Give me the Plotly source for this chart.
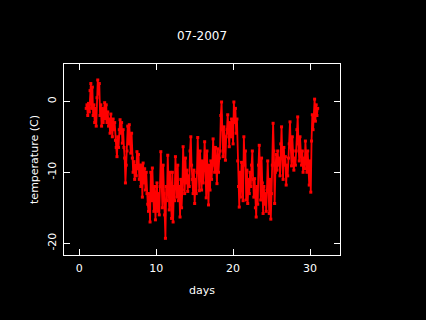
import plotly.graph_objects as go

title_text = "07-2007"
x_label = "days"
y_label = "temperature (C)"
x_ticks = [0, 10, 20, 30]
y_ticks = [0, -10, -20]

# sample times (days), 0.1-day steps from 0.9 to 31.0
days = [round(0.9 + 0.1 * i, 1) for i in range(302)]

# temperatures (C), one per sample time
temps = [
    -1.0,
    -0.5, -2.0, -0.3, -1.5, 1.5, 2.5, -1.0, 2.0, -2.0, -0.5,
    -3.0, -1.0, -3.5, 0.5, 3.0, 1.0, 2.5, -2.0, -0.5, -3.5,
    -1.0, -3.0, -2.0, -0.2, -2.5, -0.5, -3.0, -1.5, -3.5, -2.5,
    -4.5, -1.8, -3.5, -5.0, -2.5, -4.0, -3.0, -5.5, -6.5, -7.8,
    -5.0, -6.5, -4.0, -2.6, -4.5, -3.0, -5.9, -4.0, -6.5, -8.0,
    -11.5, -9.0, -7.0, -3.5, -6.0, -3.3, -5.5, -7.3, -4.5, -8.0,
    -10.0, -8.5, -11.0, -9.0, -10.5, -7.1, -9.5, -7.5, -11.0, -9.0,
    -12.0, -9.0, -13.5, -8.7, -11.5, -9.5, -12.5, -10.0, -13.0, -14.5,
    -15.5, -13.0, -17.0, -10.0, -14.0, -9.4, -13.0, -15.5, -12.0, -16.7,
    -14.0, -11.5, -15.5, -13.0, -16.0, -12.0, -7.1, -11.0, -15.0, -9.0,
    -13.0, -16.0, -19.3, -12.0, -14.0, -7.6, -12.0, -15.3, -10.0, -13.5,
    -16.5, -10.0, -17.0, -12.0, -14.0, -7.8, -11.0, -13.5, -9.0, -14.0,
    -12.0, -16.3, -11.0, -15.0, -12.5, -6.4, -10.0, -13.0, -8.0, -11.5,
    -9.7, -12.7, -10.5, -12.0, -7.0, -5.0, -9.0, -11.0, -13.0, -9.7,
    -14.4, -11.0, -13.0, -10.0, -5.1, -9.0, -12.6, -7.0, -10.5, -12.5,
    -8.4, -11.5, -9.5, -5.7, -9.0, -13.6, -7.0, -11.0, -14.6, -9.0,
    -12.5, -8.4, -11.0, -9.0, -5.3, -8.0, -10.0, -6.5, -9.0, -11.6,
    -6.7, -10.0, -8.0, -7.0, -2.0, -0.1, -4.0, -7.8, -3.6, -6.0,
    -8.3, -5.0, -4.0, -1.9, -4.5, -6.4, -3.0, -5.0, -2.5, -4.5,
    -6.0, -0.1, -3.0, -1.0, -4.5, -2.5, -8.4, -12.0, -14.9, -10.0,
    -13.5, -8.6, -12.0, -14.0, -5.0, -9.0, -7.0, -13.9, -9.7, -14.4,
    -11.0, -13.0, -10.0, -12.0, -9.0, -7.0, -11.0, -13.5, -10.9, -15.0,
    -16.3, -12.0, -14.5, -9.0, -6.2, -10.0, -13.9, -8.0, -11.5, -15.8,
    -12.0, -14.5, -13.0, -15.5, -12.5, -8.4, -12.0, -15.8, -11.0, -16.6,
    -13.0, -9.0, -3.1, -7.0, -14.4, -10.0, -7.5, -9.7, -7.0, -9.0,
    -8.0, -10.5, -6.0, -3.6, -8.0, -11.0, -6.5, -9.0, -7.8, -11.8,
    -9.0, -10.5, -8.0, -6.0, -2.9, -6.5, -9.1, -5.0, -7.0, -9.7,
    -8.0, -9.0, -7.0, -4.0, -2.2, -6.0, -8.4, -5.0, -7.5, -9.0,
    -7.0, -10.0, -8.0, -9.5, -5.6, -8.0, -10.0, -7.0, -9.0, -11.8,
    -8.4, -12.8, -5.6, -1.9, -4.0, -2.0, 0.3, -2.8, -0.5, -2.0,
    -1.0,
]

n = min(len(days), len(temps))
days = days[:n]
temps = temps[:n]

font_family = "DejaVu Sans"

fig = go.Figure()
fig.add_trace(go.Scatter(
    x=days, y=temps,
    mode="lines+markers",
    line=dict(color="#ff0000", width=1.8),
    marker=dict(color="#ff0000", size=3, symbol="square"),
    showlegend=False,
))

axis_common = dict(
    showline=True, linecolor="white", linewidth=1, mirror="allticks",
    ticks="inside", ticklen=6, tickcolor="white", tickwidth=1,
    showgrid=False, zeroline=False,
    tickfont=dict(color="white", size=11, family=font_family),
)

fig.update_layout(
    width=426, height=320,
    paper_bgcolor="black", plot_bgcolor="black",
    margin=dict(l=64, r=86, t=64, b=65),
    title=dict(text=title_text, x=202 / 426, xanchor="center",
               y=1 - 36 / 320, yanchor="middle", yref="container",
               font=dict(color="white", size=12, family=font_family)),
    xaxis=dict(range=[-1.99, 33.9], tickvals=x_ticks,
               ticktext=[str(v) for v in x_ticks],
               title=dict(text=x_label, standoff=12,
                          font=dict(color="white", size=11, family=font_family)),
               ticklabelstandoff=3,
               **axis_common),
    yaxis=dict(range=[-21.65, 5.25], tickvals=y_ticks,
               ticktext=[str(v) for v in y_ticks], tickangle=-90,
               title=dict(text=y_label, standoff=4,
                          font=dict(color="white", size=11, family=font_family)),
               ticklabelstandoff=3,
               **axis_common),
)

fig.write_html(
    "out.html",
    config={"displayModeBar": False},
    post_script="document.body.style.margin='0';document.body.style.overflow='hidden';document.body.style.background='black';",
)
